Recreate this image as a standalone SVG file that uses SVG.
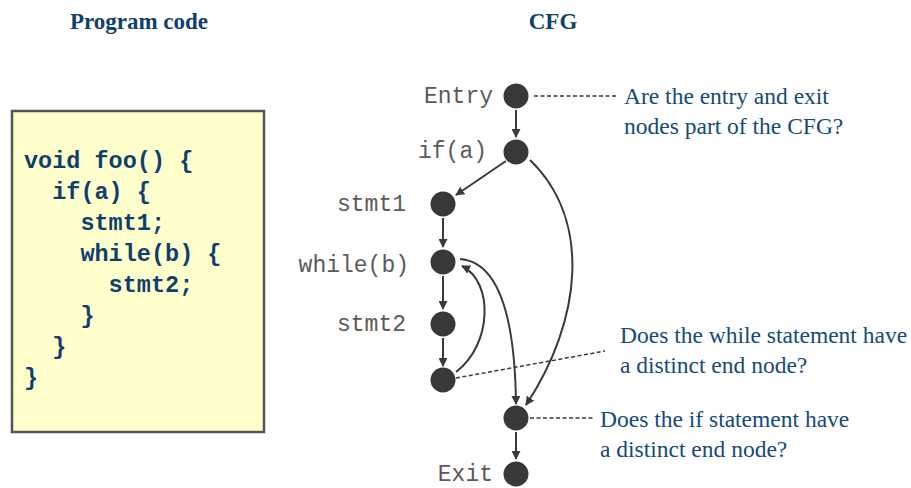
<svg xmlns="http://www.w3.org/2000/svg" width="911" height="488" viewBox="0 0 911 488">
<style>
.title{font-family:"Liberation Serif",serif;font-weight:bold;font-size:23px;fill:#0f3f6e;text-anchor:middle}
.code{font-family:"Liberation Mono",monospace;font-weight:bold;font-size:23.5px;fill:#0f3f6e}
.lbl{font-family:"Liberation Mono",monospace;font-size:23px;fill:#5a5a5a;text-anchor:end}
.ann{font-family:"Liberation Serif",serif;font-size:23.5px;fill:#154a7a}
.node{fill:#383838}
.edge{fill:none;stroke:#3a3a3a;stroke-width:2;marker-end:url(#arr)}
.dash{fill:none;stroke:#3a3a3a;stroke-width:1.5;stroke-dasharray:4 2.5}
</style>
<defs>
<marker id="arr" viewBox="0 0 10 10" refX="9" refY="5" markerWidth="4.5" markerHeight="4.5" orient="auto" markerUnits="strokeWidth">
<path d="M0,0 L10,5 L0,10 z" fill="#3a3a3a"/>
</marker>
</defs>
<rect width="911" height="488" fill="#fff"/>
<text class="title" x="139" y="29">Program code</text>
<text class="title" x="553" y="29">CFG</text>
<g id="code">
<rect x="12" y="111" width="252" height="321" fill="#ffffcc" stroke="#555" stroke-width="2.5"/>
<text class="code" x="24" y="168" xml:space="preserve">void foo() {</text>
<text class="code" x="24" y="199" xml:space="preserve">  if(a) {</text>
<text class="code" x="24" y="230" xml:space="preserve">    stmt1;</text>
<text class="code" x="24" y="261" xml:space="preserve">    while(b) {</text>
<text class="code" x="24" y="292" xml:space="preserve">      stmt2;</text>
<text class="code" x="24" y="323" xml:space="preserve">    }</text>
<text class="code" x="24" y="354" xml:space="preserve">  }</text>
<text class="code" x="24" y="385" xml:space="preserve">}</text>
</g>
<g id="connectors">
<path class="edge" d="M516,110 L516,137"/>
<path class="edge" d="M506,161 L456,195"/>
<path class="edge" d="M443,218 L443,247"/>
<path class="edge" d="M443,276 L443,309"/>
<path class="edge" d="M443,338 L443,366"/>
<path class="edge" d="M456,372 C492,345 494,282 462,266"/>
<path class="edge" d="M460,259 C500,262 515,320 516,404"/>
<path class="edge" d="M530,160 C592,220 582,320 526,405"/>
<path class="edge" d="M516,432 L516,459"/>
<path class="dash" d="M534,96 L618,96"/>
<path class="dash" d="M456,378 L605,351"/>
<path class="dash" d="M530,418 L594,418"/>
</g>
<g id="entry"><circle class="node" cx="516" cy="96" r="12.5"/><text class="lbl" x="493" y="103">Entry</text></g>
<g id="if"><circle class="node" cx="516" cy="152" r="12.5"/><text class="lbl" x="487" y="158">if(a)</text></g>
<g id="stmt1"><circle class="node" cx="443" cy="204" r="12.5"/><text class="lbl" x="406" y="211">stmt1</text></g>
<g id="while"><circle class="node" cx="443" cy="262" r="12.5"/><text class="lbl" x="409" y="272">while(b)</text></g>
<g id="stmt2"><circle class="node" cx="443" cy="324" r="12.5"/><text class="lbl" x="406" y="331">stmt2</text></g>
<g id="endwhile"><circle class="node" cx="443" cy="380" r="12.5"/></g>
<g id="endif"><circle class="node" cx="516" cy="418" r="12.5"/></g>
<g id="exit"><circle class="node" cx="516" cy="474" r="12.5"/><text class="lbl" x="493" y="481">Exit</text></g>
<g id="annotations">
<text class="ann" x="624" y="104">Are the entry and exit</text>
<text class="ann" x="624" y="134">nodes part of the CFG?</text>
<text class="ann" x="620" y="343">Does the while statement have</text>
<text class="ann" x="620" y="373">a distinct end node?</text>
<text class="ann" x="600" y="427">Does the if statement have</text>
<text class="ann" x="600" y="457">a distinct end node?</text>
</g>
</svg>
